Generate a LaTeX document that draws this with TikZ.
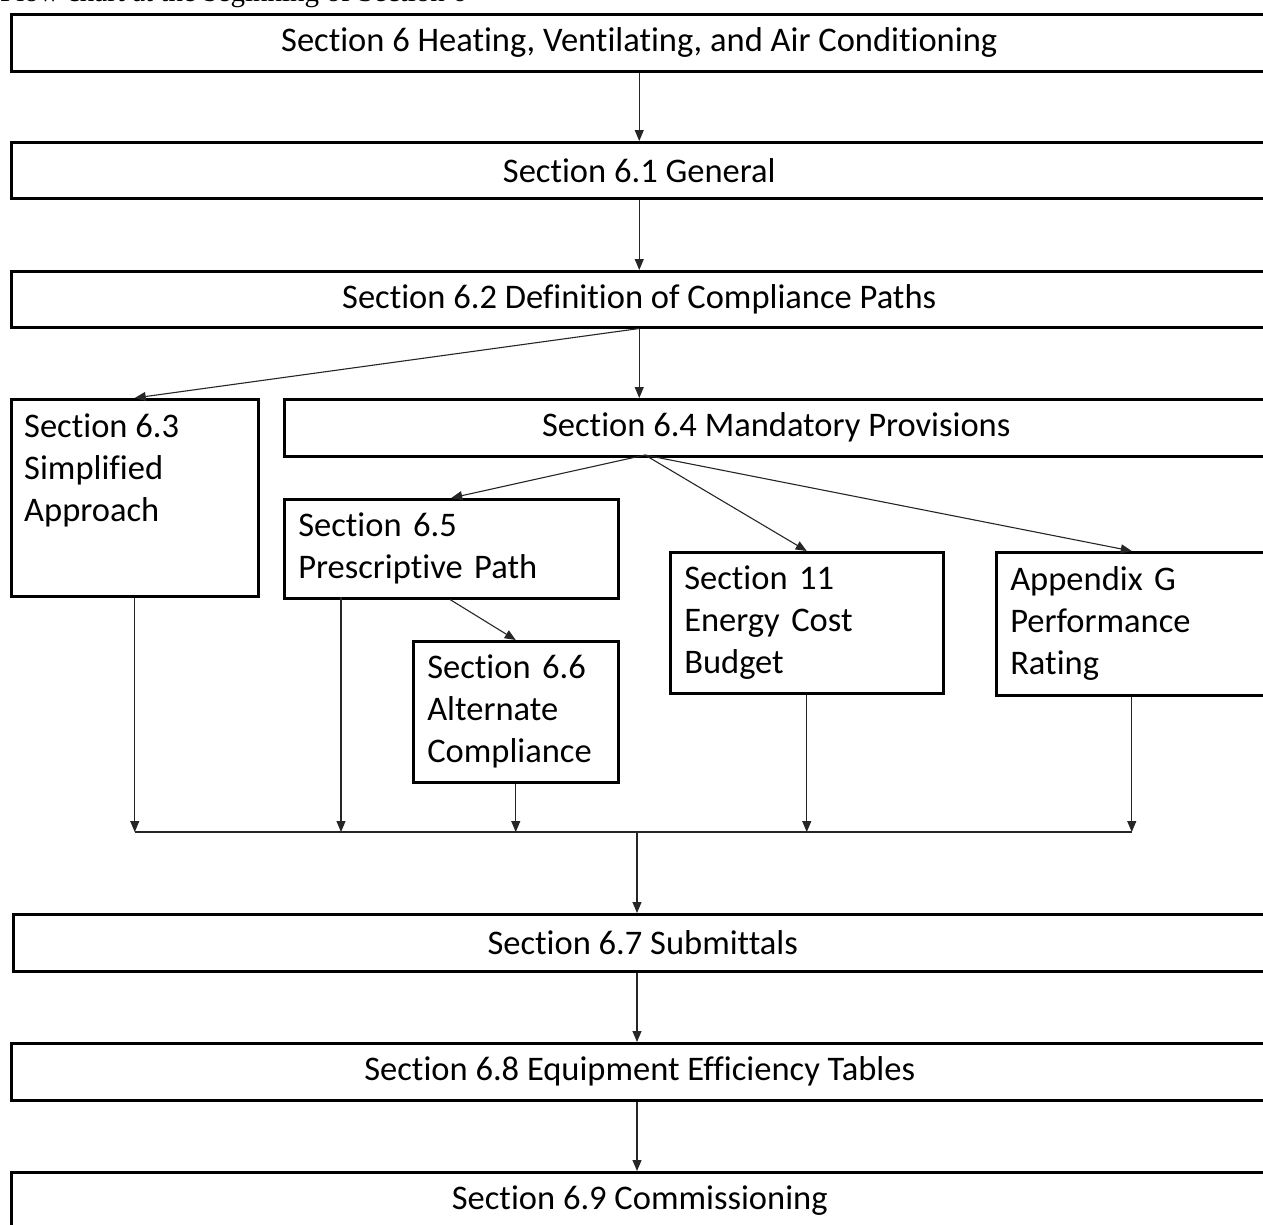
\documentclass[tikz,border=0pt]{standalone}
\usepackage{fontspec}
\setmainfont{Carlito}[Ligatures=NoCommon]
\newfontfamily\capfont{Liberation Serif}
\usetikzlibrary{arrows.meta}
\begin{document}
\begin{tikzpicture}[x=1pt,y=-1pt,
  box/.style={draw=black, line width=2.5pt, rectangle, anchor=north west, inner sep=0pt,
    font=\fontsize{34.5}{42}\selectfont},
  mbox/.style={box, align=left, inner xsep=14pt},
  conn/.style={draw=black!85, line width=1.1pt, -{Triangle[length=11pt,width=9pt]}},
  ln/.style={draw=black!85, line width=1.1pt}]
\useasboundingbox (0,0) rectangle (1263,1224);
\clip (0,0) rectangle (1263,1224);
\node[anchor=base west, font=\capfont\fontsize{29}{34}\selectfont, inner sep=0pt] (cap) at (0,1.5) {Flow chart at the beginning of Section 6};
% boxes
\node[box, minimum width=1256pt, minimum height=57pt] (s6) at (10,13) {Section 6 Heating, Ventilating, and Air Conditioning};
\node[box, minimum width=1256pt, minimum height=56pt] (s61) at (10,141) {Section 6.1 General};
\node[box, minimum width=1256pt, minimum height=56pt] (s62) at (10,270) {Section 6.2 Definition of Compliance Paths};
\node[box, minimum width=247pt, minimum height=197pt] (s63) at (10,398) {};
\node[anchor=north west, inner sep=0pt, align=left, font=\fontsize{34.5}{42}\selectfont] (t63) at (24,414) {Section 6.3\\Simplified\\Approach};
\node[box, minimum width=984pt, minimum height=57pt] (s64) at (283,398) {Section 6.4 Mandatory Provisions};
\node[mbox, text width=306pt, minimum height=99pt] (s65) at (283,498) {Section 6.5\\Prescriptive Path};
\node[mbox, text width=177pt, minimum height=141pt] (s66) at (412,640) {Section 6.6\\Alternate\\Compliance};
\node[mbox, text width=245pt, minimum height=141pt] (s11) at (669,551) {Section 11\\Energy Cost\\Budget};
\node[mbox, text width=243pt, minimum height=143pt] (sG) at (995,551) {Appendix G\\Performance\\Rating};
\node[box, minimum width=1259pt, minimum height=57pt] (s67) at (12,913) {Section 6.7 Submittals};
\node[box, minimum width=1257pt, minimum height=57pt] (s68) at (10,1042) {Section 6.8 Equipment Efficiency Tables};
\node[box, minimum width=1257pt, minimum height=57pt] (s69) at (10,1171) {Section 6.9 Commissioning};
% helper coordinates
\coordinate (d64) at (645,455);
\coordinate (p65) at (341,597);
\coordinate (mc) at (637,832);
% connectors
\draw[conn] (s6.south) -- (s61.north);
\draw[conn] (s61.south) -- (s62.north);
\draw[conn] (s62.south) -- (s62.south |- s64.north);
\draw[conn] (s62.south) -- (s63.north);
\draw[conn] (d64) -- (s65.north);
\draw[conn] (d64) -- (s11.north);
\draw[conn] (d64) -- (sG.north);
\draw[conn] (s65.south -| 450,0) -- (s66.north);
\draw[conn] (s63.south) -- (s63.south |- mc);
\draw[conn] (p65) -- (p65 |- mc);
\draw[conn] (s66.south) -- (s66.south |- mc);
\draw[conn] (s11.south) -- (s11.south |- mc);
\draw[conn] (sG.south) -- (sG.south |- mc);
\draw[ln] (s63.south |- mc) -- (sG.south |- mc);
\draw[conn] (mc) -- (mc |- s67.north);
\draw[conn] (mc |- s67.south) -- (mc |- s68.north);
\draw[conn] (mc |- s68.south) -- (mc |- s69.north);
\end{tikzpicture}
\end{document}
